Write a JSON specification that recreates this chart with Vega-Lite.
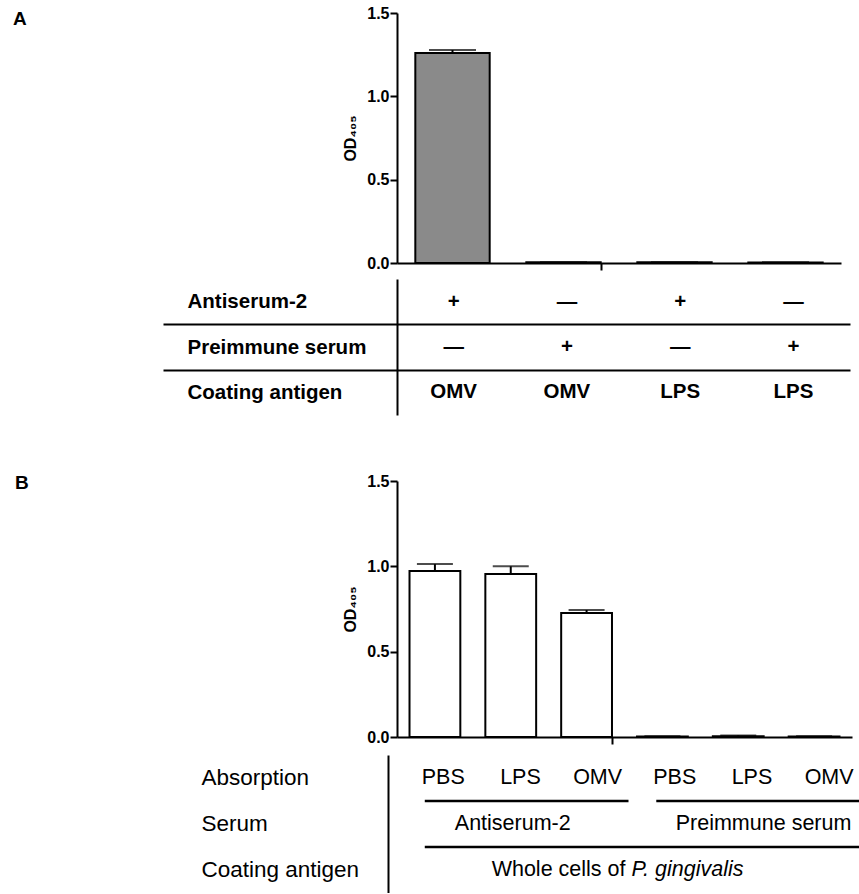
{
  "$schema": "https://vega.github.io/schema/vega-lite/v6.json",
  "background": "white",
  "padding": {"left": 13, "top": 5, "right": 0, "bottom": 0},
  "config": {
    "view": {"stroke": null},
    "font": "Liberation Sans",
    "axis": {
      "domainColor": "black",
      "domainWidth": 2,
      "tickColor": "black",
      "tickWidth": 2,
      "tickSize": 7,
      "labelFont": "Liberation Sans",
      "labelFontSize": 16,
      "labelFontWeight": "bold",
      "labelColor": "black",
      "titleFont": "Liberation Sans",
      "titleFontSize": 16,
      "titleFontWeight": "bold",
      "titleColor": "black",
      "grid": false
    }
  },
  "datasets": {
    "panelA": [
      {"col": 1, "Antiserum-2": "+", "Preimmune serum": "—", "Coating antigen": "OMV", "od": 1.26, "upper": 1.278},
      {"col": 2, "Antiserum-2": "—", "Preimmune serum": "+", "Coating antigen": "OMV", "od": 0.004, "upper": 0.005},
      {"col": 3, "Antiserum-2": "+", "Preimmune serum": "—", "Coating antigen": "LPS", "od": 0.004, "upper": 0.005},
      {"col": 4, "Antiserum-2": "—", "Preimmune serum": "+", "Coating antigen": "LPS", "od": 0.003, "upper": 0.004}
    ],
    "panelB": [
      {"col": 1, "serum": "Antiserum-2", "absorption": "PBS", "od": 0.972, "upper": 1.013},
      {"col": 2, "serum": "Antiserum-2", "absorption": "LPS", "od": 0.955, "upper": 1.0},
      {"col": 3, "serum": "Antiserum-2", "absorption": "OMV", "od": 0.726, "upper": 0.744},
      {"col": 4, "serum": "Preimmune serum", "absorption": "PBS", "od": 0.003, "upper": 0.004},
      {"col": 5, "serum": "Preimmune serum", "absorption": "LPS", "od": 0.005, "upper": 0.009},
      {"col": 6, "serum": "Preimmune serum", "absorption": "OMV", "od": 0.003, "upper": 0.004}
    ],
    "coatingB": [
      {"coating": "Whole cells of", "species": "P. gingivalis"}
    ]
  },
  "spacing": 57,
  "resolve": {"scale": {"x": "independent", "y": "independent"}},
  "vconcat": [
    {
      "title": {"text": "A", "anchor": "start", "dx": -149, "dy": 24, "offset": 0, "fontSize": 19, "fontWeight": "bold", "font": "Liberation Sans", "color": "black"},
      "spacing": -2,
      "resolve": {"scale": {"x": "independent", "y": "independent"}},
      "vconcat": [
        {
          "data": {"name": "panelA"},
          "width": 444,
          "height": 250,
          "encoding": {
            "x": {
              "field": "col", "type": "ordinal",
              "scale": {"paddingInner": 0.33, "paddingOuter": 0.165},
              "axis": {"labels": false, "title": null, "tickBand": "extent", "tickOffset": 18, "tickSize": 7,
                       "tickColor": {"condition": {"test": "datum.value === 2", "value": "black"}, "value": "transparent"}}
            }
          },
          "layer": [
            {
              "mark": {"type": "bar", "fill": "#8a8a8a", "stroke": "black", "strokeWidth": 2},
              "encoding": {
                "y": {"field": "od", "type": "quantitative", "scale": {"domain": [0, 1.5], "nice": false}, "axis": {"values": [0, 0.5, 1, 1.5], "format": ".1f", "title": "OD₄₀₅", "labelPadding": 1, "titlePadding": 8}}
              }
            },
            {
              "mark": {"type": "rule", "color": "black", "strokeWidth": 2},
              "encoding": {
                "y": {"field": "od", "type": "quantitative", "axis": {"values": [0, 0.5, 1, 1.5], "format": ".1f", "title": "OD₄₀₅", "labelPadding": 1, "titlePadding": 8}},
                "y2": {"field": "upper"}
              }
            },
            {
              "mark": {"type": "tick", "color": "black", "thickness": 2, "size": 47},
              "encoding": {
                "y": {"field": "upper", "type": "quantitative", "axis": {"values": [0, 0.5, 1, 1.5], "format": ".1f", "title": "OD₄₀₅", "labelPadding": 1, "titlePadding": 8}}
              }
            }
          ]
        },
        {
          "data": {"name": "panelA"},
          "transform": [{"fold": ["Antiserum-2", "Preimmune serum", "Coating antigen"], "as": ["row", "sign"]}],
          "width": 453,
          "height": 136,
          "mark": {"type": "text", "fontSize": 20.5, "fontWeight": "bold", "color": "black", "font": "Liberation Sans"},
          "encoding": {
            "x": {"field": "col", "type": "ordinal", "scale": {"paddingInner": 0, "paddingOuter": 0}, "axis": null},
            "y": {
              "field": "row", "type": "nominal",
              "sort": ["Antiserum-2", "Preimmune serum", "Coating antigen"],
              "scale": {"paddingInner": 0, "paddingOuter": 0},
              "axis": {
                "title": null,
                "tickBand": "extent",
                "tickSize": 234,
                "tickWidth": 2,
                "tickColor": {"condition": {"test": "datum.value === 'Antiserum-2' || datum.value === 'Preimmune serum'", "value": "black"}, "value": "transparent"},
                "grid": true,
                "gridWidth": 2,
                "gridColor": {"condition": {"test": "datum.value === 'Antiserum-2' || datum.value === 'Preimmune serum'", "value": "black"}, "value": "transparent"},
                "labelAlign": "left",
                "labelBaseline": "middle",
                "labelPadding": -24,
                "labelFontSize": 20.5,
                "labelFontWeight": "bold"
              }
            },
            "text": {"field": "sign"}
          }
        }
      ]
    },
    {
      "title": {"text": "B", "anchor": "start", "dx": -186, "dy": 20, "offset": 0, "fontSize": 19, "fontWeight": "bold", "font": "Liberation Sans", "color": "black"},
      "spacing": 10,
      "resolve": {"scale": {"x": "independent", "y": "independent"}},
      "vconcat": [
        {
          "data": {"name": "panelB"},
          "width": 455,
          "height": 256,
          "encoding": {
            "x": {
              "field": "col", "type": "ordinal",
              "scale": {"paddingInner": 0.33, "paddingOuter": 0.165},
              "axis": {"labels": false, "title": null, "tickBand": "extent", "tickOffset": 12.5, "tickSize": 7,
                       "tickColor": {"condition": {"test": "datum.value === 3", "value": "black"}, "value": "transparent"}}
            }
          },
          "layer": [
            {
              "mark": {"type": "bar", "fill": "white", "stroke": "black", "strokeWidth": 2},
              "encoding": {
                "y": {"field": "od", "type": "quantitative", "scale": {"domain": [0, 1.5], "nice": false}, "axis": {"values": [0, 0.5, 1, 1.5], "format": ".1f", "title": "OD₄₀₅", "labelPadding": 1, "titlePadding": 8}}
              }
            },
            {
              "mark": {"type": "rule", "color": "black", "strokeWidth": 2},
              "encoding": {
                "y": {"field": "od", "type": "quantitative", "axis": {"values": [0, 0.5, 1, 1.5], "format": ".1f", "title": "OD₄₀₅", "labelPadding": 1, "titlePadding": 8}},
                "y2": {"field": "upper"}
              }
            },
            {
              "mark": {"type": "tick", "color": "black", "thickness": 2, "size": 36},
              "encoding": {
                "y": {"field": "upper", "type": "quantitative", "axis": {"values": [0, 0.5, 1, 1.5], "format": ".1f", "title": "OD₄₀₅", "labelPadding": 1, "titlePadding": 8}}
              }
            }
          ]
        },
        {
          "width": 463,
          "height": 138,
          "layer": [
            {
              "data": {"name": "panelB"},
              "mark": {"type": "text", "fontSize": 21.5, "color": "black", "font": "Liberation Sans"},
              "encoding": {
                "x": {"field": "col", "type": "ordinal", "bandPosition": 0.6, "scale": {"paddingInner": 0, "paddingOuter": 0}, "axis": null},
                "y": {
                  "datum": "Absorption", "type": "nominal",
                  "scale": {"domain": ["Absorption", "Serum", "Coating antigen"], "paddingInner": 0, "paddingOuter": 0},
                  "axis": {"title": null, "ticks": false, "offset": 9, "labelAlign": "left", "labelBaseline": "middle", "labelPadding": 187, "labelFontSize": 22.5, "labelFontWeight": "normal"}
                },
                "text": {"field": "absorption"}
              }
            },
            {
              "data": {"name": "panelB"},
              "transform": [{"filter": "datum.absorption === 'LPS' && datum.serum === 'Antiserum-2'"}],
              "mark": {"type": "text", "fontSize": 21.5, "color": "black", "font": "Liberation Sans"},
              "encoding": {
                "x": {"field": "col", "type": "ordinal", "bandPosition": 0.5},
                "y": {"datum": "Serum", "type": "nominal"},
                "text": {"field": "serum"}
              }
            },
            {
              "data": {"name": "panelB"},
              "transform": [{"filter": "datum.absorption === 'LPS' && datum.serum === 'Preimmune serum'"}],
              "mark": {"type": "text", "fontSize": 21.5, "color": "black", "font": "Liberation Sans"},
              "encoding": {
                "x": {"field": "col", "type": "ordinal", "bandPosition": 0.75},
                "y": {"datum": "Serum", "type": "nominal"},
                "text": {"field": "serum"}
              }
            },
            {
              "data": {"name": "panelB"},
              "transform": [{"aggregate": [{"op": "min", "field": "col", "as": "start"}, {"op": "max", "field": "col", "as": "end"}], "groupby": ["serum"]}],
              "mark": {"type": "rule", "color": "black", "strokeWidth": 2.5},
              "encoding": {
                "x": {"field": "start", "type": "ordinal", "bandPosition": 0.36},
                "x2": {"field": "end", "bandPosition": 1},
                "y": {"datum": "Absorption", "type": "nominal", "bandPosition": 1}
              }
            },
            {
              "data": {"name": "panelB"},
              "transform": [{"aggregate": [{"op": "min", "field": "col", "as": "start"}, {"op": "max", "field": "col", "as": "end"}]}],
              "mark": {"type": "rule", "color": "black", "strokeWidth": 2.5},
              "encoding": {
                "x": {"field": "start", "type": "ordinal", "bandPosition": 0.36},
                "x2": {"field": "end", "bandPosition": 1},
                "y": {"datum": "Serum", "type": "nominal", "bandPosition": 1}
              }
            },
            {
              "data": {"name": "coatingB"},
              "mark": {"type": "text", "fontSize": 21.5, "color": "black", "font": "Liberation Sans", "align": "right", "dx": -3},
              "encoding": {
                "x": {"datum": 4, "type": "ordinal", "bandPosition": 0},
                "y": {"datum": "Coating antigen", "type": "nominal"},
                "text": {"field": "coating"}
              }
            },
            {
              "data": {"name": "coatingB"},
              "mark": {"type": "text", "fontSize": 21.5, "color": "black", "font": "Liberation Sans", "align": "left", "dx": 3, "fontStyle": "italic"},
              "encoding": {
                "x": {"datum": 4, "type": "ordinal", "bandPosition": 0},
                "y": {"datum": "Coating antigen", "type": "nominal"},
                "text": {"field": "species"}
              }
            }
          ]
        }
      ]
    }
  ]
}
